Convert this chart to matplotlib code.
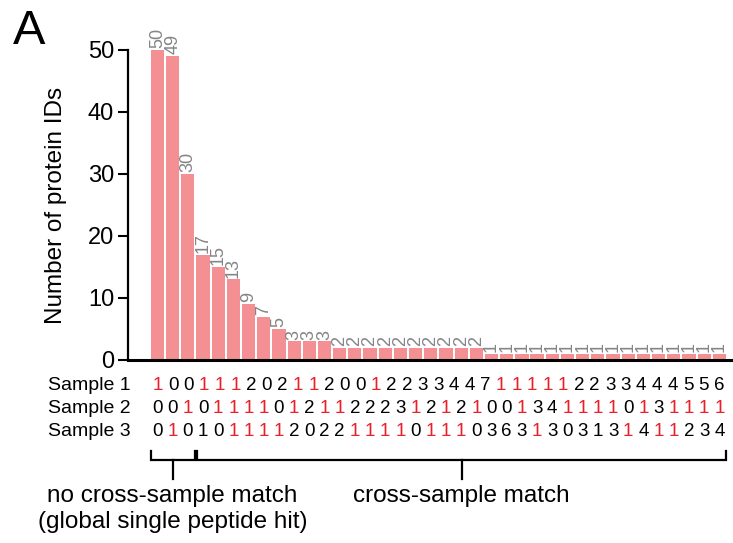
import matplotlib
matplotlib.use("Agg")
import matplotlib.pyplot as plt
import numpy as np

plt.rcParams['font.family'] = ['Liberation Sans', 'DejaVu Sans']

# protein counts per sample-combination
counts = [50, 49, 30, 17, 15, 13, 9, 7, 5, 3, 3, 3,
          2, 2, 2, 2, 2, 2, 2, 2, 2, 2,
          1, 1, 1, 1, 1, 1, 1, 1, 1, 1, 1, 1, 1, 1, 1, 1]

# peptide counts in each sample (row 1 has one digit less in the original)
sample1 = [1, 0, 0, 1, 1, 1, 2, 0, 2, 1, 1, 2, 0, 0, 1, 2, 2, 3, 3, 4, 4, 7,
           1, 1, 1, 1, 1, 2, 2, 3, 3, 4, 4, 4, 5, 5, 6]
sample2 = [0, 0, 1, 0, 1, 1, 1, 1, 0, 1, 2, 1, 1, 2, 2, 2, 3, 1, 2, 1, 2, 1,
           0, 0, 1, 3, 4, 1, 1, 1, 1, 0, 1, 3, 1, 1, 1, 1]
sample3 = [0, 1, 0, 1, 0, 1, 1, 1, 1, 2, 0, 2, 2, 1, 1, 1, 1, 0, 1, 1, 1, 0,
           3, 6, 3, 1, 3, 0, 3, 1, 3, 1, 4, 1, 1, 2, 3, 4]
# which digits are red (row 3 has two black 1s)
red1 = [v == 1 for v in sample1]
red2 = [v == 1 for v in sample2]
red3 = [0, 1, 0, 0, 0, 1, 1, 1, 1, 0, 0, 0, 0, 1, 1, 1, 1, 0, 1, 1, 1, 0,
        0, 0, 0, 1, 0, 0, 0, 0, 0, 1, 0, 1, 1, 0, 0, 0]
row_names = ["Sample 1", "Sample 2", "Sample 3"]

bar_color = '#f49093'
red = '#e8202a'

fig = plt.figure(figsize=(7.33, 5.43), dpi=100)
ax = fig.add_axes([128/733, 1 - 360/543, 605/733, 310/543])

x = np.arange(len(counts))
ax.bar(x, counts, width=0.87, color=bar_color)
for xi, c in zip(x, counts):
    ax.text(xi, c + 0.3, str(c), rotation=90, ha='center', va='bottom',
            fontsize=13, color='#858585', clip_on=False)

ax.set_xlim(-1.94, 37.9)
ax.set_ylim(0, 50)
ax.set_yticks([0, 10, 20, 30, 40, 50])
ax.set_xticks([])
ax.spines['top'].set_visible(False)
ax.spines['right'].set_visible(False)
ax.spines['left'].set_linewidth(1.6)
ax.spines['bottom'].set_linewidth(2.2)
ax.tick_params(axis='y', length=7, width=1.5, labelsize=17, pad=3)
ax.set_ylabel("Number of protein IDs", fontsize=17.5, labelpad=15)

# sample rows under the bars
trans = ax.get_xaxis_transform()
rows_y = [-0.081, -0.156, -0.232]
for vals, reds, yy, name in zip([sample1, sample2, sample3], [red1, red2, red3],
                                rows_y, row_names):
    xs = np.linspace(0, len(counts) - 1, len(vals))
    for xv, v, r in zip(xs, vals, reds):
        ax.text(xv, yy, str(v), ha='center', va='center', fontsize=13.5,
                color=red if r else 'black', transform=trans, clip_on=False)
    ax.text(-1.8, yy, name, ha='right', va='center', fontsize=14,
            transform=trans, clip_on=False)

# brackets
def bracket(x0, x1):
    yb, yt, ys = -0.3226, -0.2935, -0.384
    xm = (x0 + x1) / 2
    ax.plot([x0, x0, x1, x1], [yt, yb, yb, yt], color='black', lw=1.6,
            transform=trans, clip_on=False, solid_joinstyle='miter')
    ax.plot([xm, xm], [yb, ys], color='black', lw=1.6,
            transform=trans, clip_on=False)
    return xm

m1 = bracket(-0.45, 2.45)
m2 = bracket(2.62, 37.45)
ax.text(m1, -0.44, "no cross-sample match", ha='center', va='center',
        fontsize=17.5, transform=trans, clip_on=False)
ax.text(m1, -0.522, "(global single peptide hit)", ha='center', va='center',
        fontsize=17.5, transform=trans, clip_on=False)
ax.text(m2, -0.44, "cross-sample match", ha='center', va='center',
        fontsize=17.5, transform=trans, clip_on=False)

fig.text(13/733, 1 - 9/543, "A", fontsize=35, ha='left', va='top')

fig.savefig("out.png", dpi=100)
